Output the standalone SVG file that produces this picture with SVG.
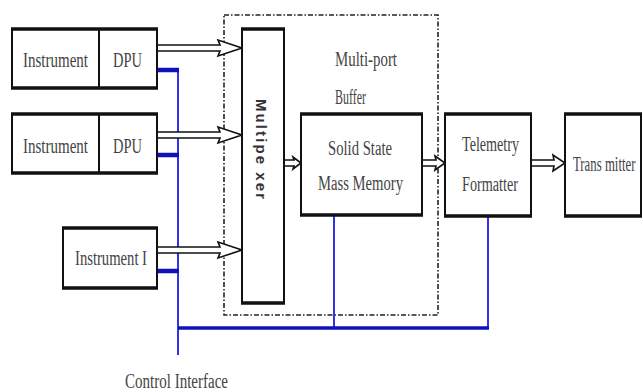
<svg xmlns="http://www.w3.org/2000/svg" width="643" height="392" viewBox="0 0 643 392">
<style>
.box{fill:#fff;stroke:#111;stroke-width:2}
.edge{stroke:#111;stroke-width:3.5}
.t{font-family:"Liberation Serif",serif;font-size:20px;fill:#444}
.ts{font-family:"Liberation Sans",sans-serif;font-size:15px;fill:#333;font-weight:bold}
.arr{fill:#fff;stroke:#111;stroke-width:1.6;stroke-linejoin:miter}
.blue{stroke:#3333ee;stroke-width:2;fill:none}
.blueb{stroke:#1111bb;stroke-width:3.5;fill:none}
.stub{stroke:#1111bb;stroke-width:4.5}
</style>
<rect width="643" height="392" fill="#fff"/>
<g id="buffer-region">
<rect x="224" y="15" width="214" height="300" fill="none" stroke="#222" stroke-width="1.6" stroke-dasharray="5 2 1.5 2"/>
<text class="t" x="335" y="66" textLength="62" lengthAdjust="spacingAndGlyphs">Multi-port</text>
<text class="t" x="335" y="104" textLength="31" lengthAdjust="spacingAndGlyphs">Buffer</text>
</g>
<g id="connectors">
<path class="blue" d="M178 70 V355 M334 215 V328 M488 216 V328"/>
<path class="blueb" d="M178 328 H489"/>
<path class="stub" d="M157 70 H179 M157 155 H179 M157 271 H179"/>
<polygon class="arr" points="157,45 220,45 218,40 242,48 218,56 220,51 157,51"/>
<polygon class="arr" points="157,132 220,132 218,127 242,135 218,143 220,138 157,138"/>
<polygon class="arr" points="157,247 220,247 218,242 242,250 218,258 220,253 157,253"/>
<polygon class="arr" points="284,160 294,160 293,157 301,163 293,169 294,166 284,166"/>
<polygon class="arr" points="422,160 436,160 435,156 445,163 435,170 436,166 422,166"/>
<polygon class="arr" points="531,160 554,160 553,155 565,163 553,171 554,166 531,166"/>
</g>
<g id="instrument1">
<rect class="box" x="12" y="29" width="145" height="59"/>
<path class="edge" d="M11 29 H158 M11 88 H158"/>
<line x1="99" y1="29" x2="99" y2="88" stroke="#111" stroke-width="2"/>
<text class="t" x="23" y="67" textLength="65" lengthAdjust="spacingAndGlyphs">Instrument</text>
<text class="t" x="113" y="67" textLength="29" lengthAdjust="spacingAndGlyphs">DPU</text>
</g>
<g id="instrument2">
<rect class="box" x="12" y="114" width="145" height="59"/>
<path class="edge" d="M11 114 H158 M11 173 H158"/>
<line x1="99" y1="114" x2="99" y2="173" stroke="#111" stroke-width="2"/>
<text class="t" x="23" y="153" textLength="65" lengthAdjust="spacingAndGlyphs">Instrument</text>
<text class="t" x="113" y="153" textLength="29" lengthAdjust="spacingAndGlyphs">DPU</text>
</g>
<g id="instrument3">
<rect class="box" x="63" y="228" width="94" height="60"/>
<path class="edge" d="M62 228 H158 M62 288 H158"/>
<text class="t" x="75" y="265" textLength="72" lengthAdjust="spacingAndGlyphs">Instrument I</text>
</g>
<g id="multiplexer">
<rect class="box" x="242" y="29" width="42" height="274"/>
<path class="edge" d="M241 29 H285 M241 303 H285"/>
<text class="ts" transform="translate(256,99) rotate(90)" textLength="100" lengthAdjust="spacing">Multipe xer</text>
</g>
<g id="ssmm">
<rect class="box" x="301" y="114" width="121" height="101"/>
<path class="edge" d="M300 114 H423 M300 215 H423"/>
<text class="t" x="328" y="155" textLength="64" lengthAdjust="spacingAndGlyphs">Solid State</text>
<text class="t" x="318" y="190" textLength="85" lengthAdjust="spacingAndGlyphs">Mass Memory</text>
</g>
<g id="telemetry">
<rect class="box" x="445" y="114" width="86" height="102"/>
<path class="edge" d="M444 114 H532 M444 216 H532"/>
<text class="t" x="462" y="151" textLength="57" lengthAdjust="spacingAndGlyphs">Telemetry</text>
<text class="t" x="462" y="191" textLength="56" lengthAdjust="spacingAndGlyphs">Formatter</text>
</g>
<g id="transmitter">
<rect class="box" x="565" y="114" width="76" height="102"/>
<path class="edge" d="M564 114 H642 M564 216 H642"/>
<text class="t" transform="translate(573,171) scale(0.64,1)">Trans mitter</text>
</g>
<g id="control-label">
<text class="t" x="125" y="388" textLength="103" lengthAdjust="spacingAndGlyphs">Control Interface</text>
</g>
</svg>
